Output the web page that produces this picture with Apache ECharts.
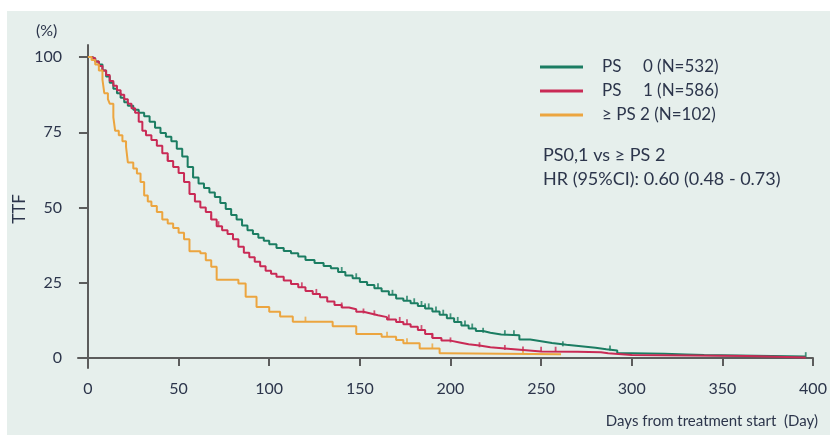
<!DOCTYPE html>
<html>
<head>
<meta charset="utf-8">
<script src="https://cdn.jsdelivr.net/npm/echarts@6/dist/echarts.min.js"></script>
<style>
html,body{margin:0;padding:0;background:#fff;}
#chart{width:830px;height:435px;}
</style>
</head>
<body>
<div id="chart"></div>
<script>
// ---- data ----
var xTicks = [0, 50, 100, 150, 200, 250, 300, 350, 400];
var yTicks = [0, 25, 50, 75, 100];
var seriesNames = ['PS\u2003  0 (N=532)', 'PS\u2003  1 (N=586)', '\u2265 PS 2 (N=102)'];

var ps0 = [[0,100],[2,99.5],[4,98.5],[6,97.5],[8,95.5],[10,93.5],[12,91.5],[14,89.5],[16,88],[18,86.5],[20,85],[22,83.8],[25,82.5],[28,81.5],[31,80.3],[34,78.5],[37,76.5],[40,74.8],[43,73.5],[46,72],[49,69.5],[52,67],[55,63.5],[58,60],[61,58],[64,56.5],[67,55],[70,53.5],[73,51.5],[76,49.5],[79,47.5],[82,46],[85,44],[88,42.5],[91,41.2],[94,40],[97,39],[100,37.8],[104,36.6],[108,35.6],[112,34.8],[116,33.7],[120,32.6],[125,31.6],[130,30.6],[134,29.8],[138,28.6],[142,27.4],[146,26.5],[150,25.3],[154,24.3],[158,23.2],[162,22.2],[166,21],[170,19.8],[174,19],[178,18.2],[182,17.3],[186,16.5],[190,15.5],[194,14.4],[198,13.2],[202,12],[206,10.8],[210,9.8],[214,9],[218,8.4],[222,7.8],[228,7.6],[238,6.2],[244,5.6],[250,5],[256,4.4],[264,3.9],[272,3.4],[280,2.9],[286,2.5],[292,1.6],[300,1.4],[318,1.2],[330,1.0],[340,0.5],[396,0.3]];
var ps1 = [[0,100],[2,99.5],[4,98.5],[6,97],[8,95.5],[10,94],[12,92],[14,90.5],[16,89],[18,87.5],[20,86],[22,84.5],[24,83],[26,81.5],[28,78.5],[30,75.5],[32,74],[35,72.4],[38,70.5],[41,68],[44,65.5],[47,63.5],[50,61.5],[53,58.5],[56,54.5],[59,52],[62,50],[65,48.5],[68,46],[71,43.8],[74,42.5],[77,41.2],[80,39.5],[83,37],[86,35],[89,33.5],[92,32],[95,30.5],[98,29],[101,28],[104,27],[108,25.8],[112,24.6],[116,23.5],[120,22.3],[124,21.3],[128,20.2],[132,18.8],[136,17.6],[140,16.8],[144,16.2],[148,15.4],[152,14.8],[156,14.2],[160,13.6],[165,12.8],[170,12],[174,11.2],[178,10.4],[182,9.3],[186,8],[190,6.7],[195,5.8],[200,5.2],[205,4.6],[210,4.2],[216,3.6],[222,3.2],[230,2.7],[240,2.2],[250,2.1],[270,1.9],[283,1.6],[287,1.0],[300,0.7],[364,0.2],[396,0]];
var ps2 = [[0,100],[2,99],[4,97.5],[6,95.5],[8,92.5],[9,88],[11,86],[12,84.5],[14,80],[15,75.5],[17,74],[19,72],[21,70.2],[22,65],[25,63],[27,61.3],[29,58.5],[31,54],[33,52],[35,50.5],[38,48.5],[41,46],[44,44.7],[47,43.2],[50,41.6],[53,39.5],[56,35.5],[62,34.8],[65,32.5],[68,30.3],[71,26],[83,24.8],[87,20.4],[93,17],[100,15.4],[106,13.8],[113,12.1],[135,10.6],[148,8],[162,7.1],[170,6],[174,4.9],[183,3.2],[194,1.6],[196,1.3],[261,1.3]];

var cens0 = [[58,60],[140,28.6],[148,26.5],[160,23.2],[168,21],[176,19],[180,18.2],[184,17.3],[186,16.5],[188,16.5],[192,15.5],[196,14.4],[200,13.2],[204,12],[208,10.8],[212,9.8],[218,8.4],[230,7.6],[235,7.6],[262,3.9],[288,2.5],[396,0.3]];
var cens1 = [[44,65.5],[68,46],[72,43.8],[118,23.5],[126,21.3],[140,16.8],[152,14.8],[158,14.2],[166,12.8],[172,12],[176,11.2],[184,9.3],[190,6.7],[200,5.2],[216,3.6],[230,2.7],[240,2.2],[250,2.1],[258,2.1]];
var cens2 = [[120,12.1],[165,7.1],[176,4.9],[190,3.2],[240,1.3]];

var colors = ['#1b7d62', '#c92a55', '#eca53f'];
var textColor = '#2c354b';
var axisColor = '#5c5c5c';
var font = 'Lato, "Open Sans", sans-serif';

function kmSeries(name, data, color) {
  return {
    name: name, type: 'line', step: 'end', data: data,
    showSymbol: false, symbol: 'none',
    lineStyle: {color: color, width: 2}, itemStyle: {color: color},
    animation: false
  };
}
function censSeries(data, color) {
  return {
    type: 'scatter', data: data, symbol: 'rect', symbolSize: [1.8, 5], symbolOffset: [0, -2.5],
    itemStyle: {color: color}, animation: false, silent: true
  };
}

var chart = echarts.init(document.getElementById('chart'));
chart.setOption({
  backgroundColor: '#ffffff',
  animation: false,
  grid: {left: 78, right: 17, top: 45, bottom: 67},
  legend: {
    data: seriesNames, orient: 'vertical', left: 540, top: 57, padding: 0,
    icon: 'rect', itemWidth: 43, itemHeight: 3, itemGap: 4,
    textStyle: {color: textColor, fontSize: 17, fontFamily: font, lineHeight: 20, padding: [0, 0, 0, 14]},
    selectedMode: false
  },
  xAxis: {
    type: 'value', min: -5.5, max: 400,
    axisLine: {show: true, lineStyle: {color: axisColor, width: 2}},
    axisTick: {show: true, length: 8, customValues: xTicks, lineStyle: {color: axisColor, width: 2}},
    axisLabel: {customValues: xTicks, color: textColor, fontSize: 16, fontFamily: font, margin: 13},
    splitLine: {show: false}
  },
  yAxis: {
    type: 'value', min: -3.3, max: 104,
    axisLine: {show: true, lineStyle: {color: axisColor, width: 2}},
    axisTick: {show: true, length: 9, customValues: yTicks, lineStyle: {color: axisColor, width: 2}},
    axisLabel: {customValues: yTicks, color: textColor, fontSize: 16, fontFamily: font, margin: 16},
    splitLine: {show: false}
  },
  graphic: [
    {type: 'rect', silent: true, z: -100, shape: {x: 7, y: 11, width: 823, height: 424}, style: {fill: '#e6efec'}},
    {type: 'text', x: 36, y: 31, style: {text: '(%)', fill: textColor, font: '16px ' + font, textVerticalAlign: 'middle'}},
    {type: 'text', x: 20, y: 209, rotation: Math.PI / 2, style: {text: 'TTF', fill: textColor, font: '17px ' + font, textAlign: 'center', textVerticalAlign: 'middle'}},
    {type: 'text', x: 818, y: 421, style: {text: 'Days from treatment start  (Day)', fill: textColor, font: '15px ' + font, textAlign: 'right', textVerticalAlign: 'middle'}},
    {type: 'text', x: 543, y: 155, style: {text: 'PS0,1 vs \u2265 PS 2', fill: textColor, font: '18px ' + font, textVerticalAlign: 'middle'}},
    {type: 'text', x: 543, y: 179, style: {text: 'HR (95%CI): 0.60 (0.48 - 0.73)', fill: textColor, font: '18px ' + font, textVerticalAlign: 'middle'}}
  ],
  series: [
    kmSeries(seriesNames[0], ps0, colors[0]),
    kmSeries(seriesNames[1], ps1, colors[1]),
    kmSeries(seriesNames[2], ps2, colors[2]),
    censSeries(cens0, colors[0]),
    censSeries(cens1, colors[1]),
    censSeries(cens2, colors[2])
  ]
});
</script>
</body>
</html>
